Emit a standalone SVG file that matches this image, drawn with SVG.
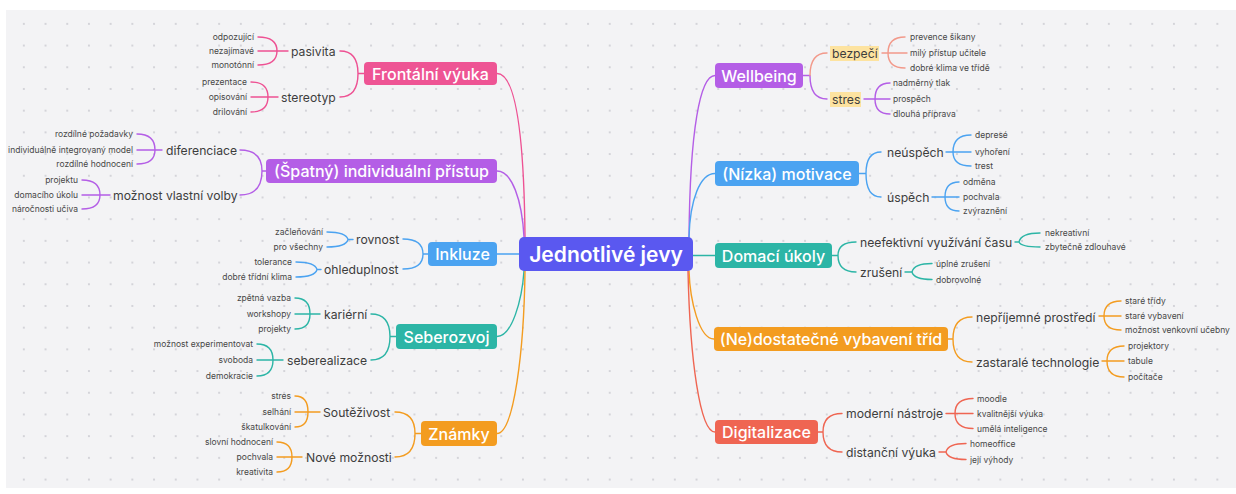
<svg xmlns="http://www.w3.org/2000/svg" width="1236" height="494" viewBox="0 0 1236 494">
<defs>
<pattern id="dots" patternUnits="userSpaceOnUse" x="13" y="13" width="21.7" height="21.7">
<circle cx="10.85" cy="10.85" r="0.9" fill="#c6c6cc"/>
</pattern>
<style>
text{font-family:Inter,"Noto Sans","Liberation Sans",sans-serif;dominant-baseline:central}
.mt{fill:#fff;font-size:16px;font-weight:500;text-anchor:middle}
.ct{fill:#fff;font-size:21px;font-weight:600;text-anchor:middle}
.l2{fill:#3d3d3d;font-size:12.2px}
.lf{fill:#474747;font-size:8.5px}
.le{text-anchor:end}
#connectors path{fill:none;stroke-width:1.4;stroke-linecap:round}
.pk{stroke:#ee5193}.pu{stroke:#b45ee6}.bl{stroke:#4ba3f1}.te{stroke:#2cb5a6}.or{stroke:#f39c20}.co{stroke:#ef6552}.sa{stroke:#f2998a}
.hl{fill:#fde3a0}
</style>
</defs>
<rect x="0" y="0" width="1236" height="494" fill="#ffffff"/>
<rect x="6" y="10" width="1230" height="478" fill="#f3f3f5"/>
<rect x="6" y="10" width="1230" height="478" fill="url(#dots)"/>

<g id="connectors">
<path class="pk" d="M497,73.5 C515,73.5 524,130 525,237"/>
<path class="pu" d="M497,171 C512,171 522,200 524,237"/>
<path class="bl" d="M497,254 H519"/>
<path class="te" d="M497,336.5 C512,336.5 522,300 524,271"/>
<path class="or" d="M497,433.5 C514,433.5 524,350 525,271"/>
<path class="pu" d="M715,75.5 C700,75.5 690,130 689,237"/>
<path class="bl" d="M715,173.5 C700,173.5 690,200 689,237"/>
<path class="te" d="M693,255.5 H715"/>
<path class="or" d="M714,339 C699,339 690,300 689,271"/>
<path class="co" d="M715,432 C700,432 690,360 688,271"/>

<path class="pk" d="M340,51 Q358,51 358,73.5 M340,97 Q358,97 358,73.5 M358,73.5 H364"/>
<path class="pk" d="M258,37 Q277,37 277,51 M258,65 Q277,65 277,51 M258,51 H288"/>
<path class="pk" d="M251,82 Q268,82 268,97 M251,112 Q268,112 268,97 M251,97 H278"/>
<path class="pu" d="M240,150 Q262,150 262,171 M240,195 Q262,195 262,171 M262,171 H266"/>
<path class="pu" d="M137,134 Q155,134 155,150 M137,164 Q155,164 155,150 M137,150 H162"/>
<path class="pu" d="M82,180 Q100,180 100,195 M82,209 Q100,209 100,195 M82,195 H110"/>
<path class="bl" d="M403,239 Q423,239 423,254 M403,269 Q423,269 423,254 M423,254 H428"/>
<path class="bl" d="M327,232 Q346,232 348,239.5 M327,247 Q346,247 348,239.5 M348,239.5 H353"/>
<path class="bl" d="M296,262 Q315,262 317,269.5 M296,277 Q315,277 317,269.5 M317,269.5 H321"/>
<path class="te" d="M371,314 Q390,314 390,336.5 M371,360 Q390,360 390,336.5 M390,336.5 H396"/>
<path class="te" d="M295,298 Q310,298 310,314 M295,329 Q310,329 310,314 M295,314 H320"/>
<path class="te" d="M257,344 Q273,344 273,360 M257,376 Q273,376 273,360 M257,360 H283"/>
<path class="or" d="M395,412 Q415,412 415,433.5 M395,457 Q415,457 415,433.5 M415,433.5 H421"/>
<path class="or" d="M295,396 Q308,396 308,412 M295,427 Q308,427 308,412 M295,412 H320"/>
<path class="or" d="M277,442 Q292,442 292,457 M277,472 Q292,472 292,457 M277,457 H302"/>

<path class="pu" d="M803,75.5 H810 M810,75.5 Q810,99 827,99"/>
<path class="sa" d="M810,75.5 Q810,53 827,53"/>
<path class="sa" d="M882,53 H907 M888,53 Q888,37 905,37 M888,53 Q888,68 905,68"/>
<path class="pu" d="M864,99 H890 M875,99 Q875,83 890,83 M875,99 Q875,114 890,114"/>
<path class="bl" d="M859,173.5 H866 M866,173.5 Q866,152 881,152 M866,173.5 Q866,197 881,197"/>
<path class="bl" d="M946,152 H971 M953,152 Q953,135 971,135 M953,152 Q953,166 971,166"/>
<path class="bl" d="M932,197 H959 M945,197 Q945,182 959,182 M945,197 Q945,211 959,211"/>
<path class="te" d="M832,255.5 H838 M838,255.5 Q838,242 856,242 M838,255.5 Q838,272 856,272"/>
<path class="te" d="M1015,242 H1019 M1019,242 Q1021,233 1040,233 M1019,242 Q1021,247 1040,247"/>
<path class="te" d="M905,272 H912 M912,272 Q914,263.5 932,263.5 M912,272 Q914,279.5 932,279.5"/>
<path class="or" d="M948,339 H953 M953,339 Q953,317 972,317 M953,339 Q953,362 972,362"/>
<path class="or" d="M1099,316 H1121 M1104,316 Q1104,301 1121,301 M1104,316 Q1104,330 1121,330"/>
<path class="or" d="M1102,361 H1124 M1107,361 Q1107,346 1124,346 M1107,361 Q1107,377 1124,377"/>
<path class="co" d="M818,432 H823 M823,432 Q823,413.5 842,413.5 M823,432 Q823,452 842,452"/>
<path class="co" d="M946,413.5 H973 M955,413.5 Q955,398.5 973,398.5 M955,413.5 Q955,428.5 973,428.5"/>
<path class="co" d="M939,452 H946 M946,452 Q948,443.5 966,443.5 M946,452 Q948,459.5 966,459.5"/>
</g>

<g id="center">
<rect x="519" y="237" width="174" height="34" rx="5" fill="#5a58f0"/>
<text class="ct" x="606" y="254.5">Jednotlivé jevy</text>
</g>

<g id="frontalni">
<rect x="364" y="62" width="133" height="23" rx="4" fill="#ee5494"/>
<text class="mt" x="430.5" y="73.5">Frontální výuka</text>
<text class="l2" x="291" y="51">pasivita</text>
<text class="l2" x="281" y="97">stereotyp</text>
<text class="lf le" x="254" y="37">odpozující</text>
<text class="lf le" x="254" y="51">nezajímavé</text>
<text class="lf le" x="254" y="65">monotónní</text>
<text class="lf le" x="247" y="82">prezentace</text>
<text class="lf le" x="247" y="97">opisování</text>
<text class="lf le" x="247" y="112">drilování</text>
</g>

<g id="individualni">
<rect x="266" y="159" width="231" height="24" rx="4" fill="#b45ee6"/>
<text class="mt" x="381.5" y="171">(Špatný) individuální přístup</text>
<text class="l2" x="166" y="150">diferenciace</text>
<text class="l2" x="113" y="195">možnost vlastní volby</text>
<text class="lf le" x="133" y="134">rozdílné požadavky</text>
<text class="lf le" x="133" y="150">individuálně integrovaný model</text>
<text class="lf le" x="133" y="164">rozdílné hodnocení</text>
<text class="lf le" x="78" y="180">projektu</text>
<text class="lf le" x="78" y="195">domacího úkolu</text>
<text class="lf le" x="78" y="209">náročnosti učiva</text>
</g>

<g id="inkluze">
<rect x="428" y="242" width="69" height="24" rx="4" fill="#4ba3f1"/>
<text class="mt" x="462.5" y="254">Inkluze</text>
<text class="l2" x="356" y="239">rovnost</text>
<text class="l2" x="324" y="269">ohleduplnost</text>
<text class="lf le" x="323" y="232">začleňování</text>
<text class="lf le" x="323" y="247">pro všechny</text>
<text class="lf le" x="292" y="262">tolerance</text>
<text class="lf le" x="292" y="277">dobré třídní klima</text>
</g>

<g id="seberozvoj">
<rect x="396" y="324" width="101" height="25" rx="4" fill="#2cb5a6"/>
<text class="mt" x="446.5" y="336.5">Seberozvoj</text>
<text class="l2" x="324" y="314">kariérní</text>
<text class="l2" x="287" y="360">seberealizace</text>
<text class="lf le" x="291" y="298">zpětná vazba</text>
<text class="lf le" x="291" y="314">workshopy</text>
<text class="lf le" x="291" y="329">projekty</text>
<text class="lf le" x="253" y="344">možnost experimentovat</text>
<text class="lf le" x="253" y="360">svoboda</text>
<text class="lf le" x="253" y="376">demokracie</text>
</g>

<g id="znamky">
<rect x="421" y="421" width="76" height="25" rx="4" fill="#f39c20"/>
<text class="mt" x="459" y="433.5">Známky</text>
<text class="l2" x="323" y="412">Soutěživost</text>
<text class="l2" x="306" y="457">Nové možnosti</text>
<text class="lf le" x="291" y="396">stres</text>
<text class="lf le" x="291" y="412">selhání</text>
<text class="lf le" x="291" y="427">škatulkování</text>
<text class="lf le" x="273" y="442">slovní hodnocení</text>
<text class="lf le" x="273" y="457">pochvala</text>
<text class="lf le" x="273" y="472">kreativita</text>
</g>

<g id="wellbeing">
<rect x="715" y="63" width="88" height="25" rx="4" fill="#b45ee6"/>
<text class="mt" x="759" y="75.5">Wellbeing</text>
<rect class="hl" x="830" y="46" width="49" height="15"/>
<text class="l2" x="832" y="53.5">bezpečí</text>
<rect class="hl" x="830" y="92" width="31" height="15"/>
<text class="l2" x="832" y="99">stres</text>
<text class="lf" x="910" y="37">prevence šikany</text>
<text class="lf" x="910" y="53">milý přístup učitele</text>
<text class="lf" x="910" y="68">dobré klima ve třídě</text>
<text class="lf" x="893" y="83">nadměrný tlak</text>
<text class="lf" x="893" y="99">prospěch</text>
<text class="lf" x="893" y="114">dlouhá příprava</text>
</g>

<g id="motivace">
<rect x="715" y="161" width="144" height="25" rx="4" fill="#4ba3f1"/>
<text class="mt" x="787" y="173.5">(Nízka) motivace</text>
<text class="l2" x="887" y="152">neúspěch</text>
<text class="l2" x="887" y="197">úspěch</text>
<text class="lf" x="975" y="135">depresé</text>
<text class="lf" x="975" y="152">vyhoření</text>
<text class="lf" x="975" y="166">trest</text>
<text class="lf" x="963" y="182">odměna</text>
<text class="lf" x="963" y="197">pochvala</text>
<text class="lf" x="963" y="211">zvýraznění</text>
</g>

<g id="domaci">
<rect x="715" y="243" width="117" height="25" rx="4" fill="#2cb5a6"/>
<text class="mt" x="773.5" y="255.5">Domací úkoly</text>
<text class="l2" x="860" y="242">neefektivní využívání času</text>
<text class="l2" x="860" y="272">zrušení</text>
<text class="lf" x="1045" y="233">nekreativní</text>
<text class="lf" x="1045" y="247">zbytečně zdlouhavé</text>
<text class="lf" x="936" y="263.5">úplné zrušení</text>
<text class="lf" x="936" y="279.5">dobrovolné</text>
</g>

<g id="vybaveni">
<rect x="714" y="327" width="234" height="24" rx="4" fill="#f39c20"/>
<text class="mt" x="831" y="339">(Ne)dostatečné vybavení tříd</text>
<text class="l2" x="976" y="317">nepříjemné prostředí</text>
<text class="l2" x="976" y="362">zastaralé technologie</text>
<text class="lf" x="1125" y="301">staré třídy</text>
<text class="lf" x="1125" y="315.5">staré vybavení</text>
<text class="lf" x="1125" y="330">možnost venkovní učebny</text>
<text class="lf" x="1128" y="346">projektory</text>
<text class="lf" x="1128" y="361">tabule</text>
<text class="lf" x="1128" y="377">počítače</text>
</g>

<g id="digitalizace">
<rect x="715" y="420" width="103" height="24" rx="4" fill="#ef6552"/>
<text class="mt" x="766.5" y="432">Digitalizace</text>
<text class="l2" x="846" y="413.5">moderní nástroje</text>
<text class="l2" x="846" y="452">distanční výuka</text>
<text class="lf" x="977" y="398.5">moodle</text>
<text class="lf" x="977" y="413.5">kvalitnější výuka</text>
<text class="lf" x="977" y="428.5">umělá inteligence</text>
<text class="lf" x="970" y="443.5">homeoffice</text>
<text class="lf" x="970" y="459.5">její výhody</text>
</g>
</svg>
